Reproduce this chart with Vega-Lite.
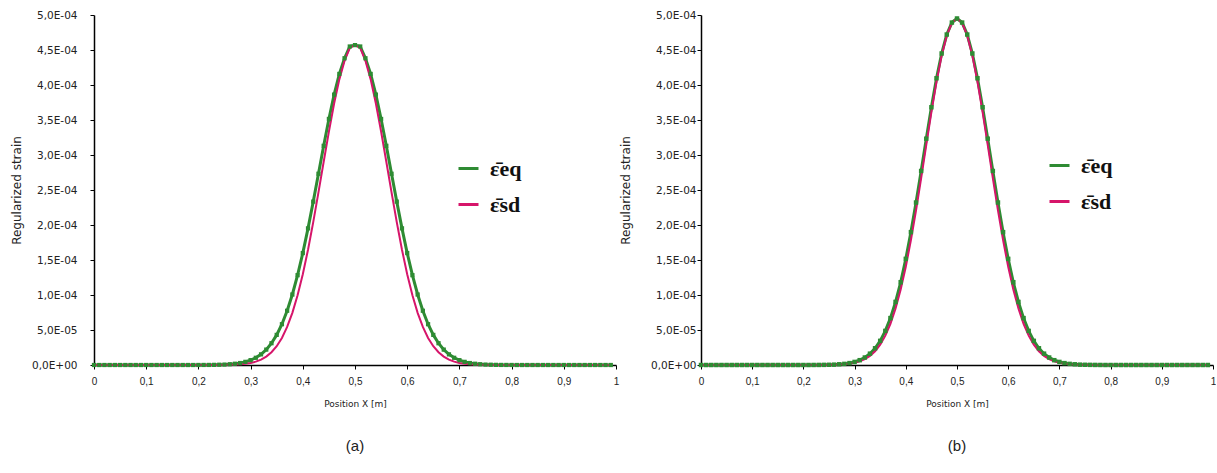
{
  "$schema": "https://vega.github.io/schema/vega-lite/v6.json",
  "background": "white",
  "padding": {"left": 10, "top": 10, "right": 0, "bottom": 0},
  "spacing": 0,
  "config": {
    "view": {"stroke": null},
    "axis": {"grid": false, "domainColor": "#000", "domainWidth": 1.5, "tickColor": "#000", "tickSize": 4, "labelColor": "#222", "titleColor": "#222", "titleFontWeight": "normal"}
  },
  "datasets": {
    "d": [
      {"x": 0.00, "ae": 0, "as": 0, "be": 0, "bs": 0},
      {"x": 0.01, "ae": 0, "as": 0, "be": 0, "bs": 0},
      {"x": 0.02, "ae": 0, "as": 0, "be": 0, "bs": 0},
      {"x": 0.03, "ae": 0, "as": 0, "be": 0, "bs": 0},
      {"x": 0.04, "ae": 0, "as": 0, "be": 0, "bs": 0},
      {"x": 0.05, "ae": 0, "as": 0, "be": 0, "bs": 0},
      {"x": 0.06, "ae": 0, "as": 0, "be": 0, "bs": 0},
      {"x": 0.07, "ae": 0, "as": 0, "be": 0, "bs": 0},
      {"x": 0.08, "ae": 0, "as": 0, "be": 0, "bs": 0},
      {"x": 0.09, "ae": 0, "as": 0, "be": 0, "bs": 0},
      {"x": 0.10, "ae": 0, "as": 0, "be": 0, "bs": 0},
      {"x": 0.11, "ae": 0, "as": 0, "be": 0, "bs": 0},
      {"x": 0.12, "ae": 0, "as": 0, "be": 0, "bs": 0},
      {"x": 0.13, "ae": 0, "as": 0, "be": 0, "bs": 0},
      {"x": 0.14, "ae": 0, "as": 0, "be": 0, "bs": 0},
      {"x": 0.15, "ae": 0, "as": 0, "be": 0, "bs": 0},
      {"x": 0.16, "ae": 0, "as": 0, "be": 0, "bs": 0},
      {"x": 0.17, "ae": 0, "as": 0, "be": 0, "bs": 0},
      {"x": 0.18, "ae": 0, "as": 0, "be": 0, "bs": 0},
      {"x": 0.19, "ae": 0, "as": 0, "be": 0, "bs": 0},
      {"x": 0.20, "ae": 4e-8, "as": 0, "be": 0, "bs": 0},
      {"x": 0.21, "ae": 7e-8, "as": 0, "be": 0, "bs": 0},
      {"x": 0.22, "ae": 1e-7, "as": 0, "be": 5e-8, "bs": 0},
      {"x": 0.23, "ae": 2e-7, "as": 5e-8, "be": 1e-7, "bs": 5e-8},
      {"x": 0.24, "ae": 4e-7, "as": 1e-7, "be": 2e-7, "bs": 1e-7},
      {"x": 0.25, "ae": 6e-7, "as": 2e-7, "be": 3e-7, "bs": 2e-7},
      {"x": 0.26, "ae": 1.1e-6, "as": 3e-7, "be": 5e-7, "bs": 4e-7},
      {"x": 0.27, "ae": 1.8e-6, "as": 6e-7, "be": 1.0e-6, "bs": 6e-7},
      {"x": 0.28, "ae": 2.8e-6, "as": 1.0e-6, "be": 1.6e-6, "bs": 1.1e-6},
      {"x": 0.29, "ae": 4.5e-6, "as": 1.8e-6, "be": 2.7e-6, "bs": 1.9e-6},
      {"x": 0.30, "ae": 6.9e-6, "as": 3.0e-6, "be": 4.4e-6, "bs": 3.2e-6},
      {"x": 0.31, "ae": 1.03e-5, "as": 4.8e-6, "be": 6.9e-6, "bs": 5.2e-6},
      {"x": 0.32, "ae": 1.52e-5, "as": 7.7e-6, "be": 1.07e-5, "bs": 8.4e-6},
      {"x": 0.33, "ae": 2.20e-5, "as": 1.20e-5, "be": 1.62e-5, "bs": 1.30e-5},
      {"x": 0.34, "ae": 3.11e-5, "as": 1.82e-5, "be": 2.39e-5, "bs": 1.97e-5},
      {"x": 0.35, "ae": 4.30e-5, "as": 2.68e-5, "be": 3.45e-5, "bs": 2.91e-5},
      {"x": 0.36, "ae": 5.83e-5, "as": 3.87e-5, "be": 4.87e-5, "bs": 4.19e-5},
      {"x": 0.37, "ae": 7.75e-5, "as": 5.44e-5, "be": 6.70e-5, "bs": 5.89e-5},
      {"x": 0.38, "ae": 1.007e-4, "as": 7.45e-5, "be": 9.01e-5, "bs": 8.07e-5},
      {"x": 0.39, "ae": 1.283e-4, "as": 9.95e-5, "be": 1.182e-4, "bs": 1.078e-4},
      {"x": 0.40, "ae": 1.599e-4, "as": 1.297e-4, "be": 1.516e-4, "bs": 1.404e-4},
      {"x": 0.41, "ae": 1.952e-4, "as": 1.647e-4, "be": 1.898e-4, "bs": 1.784e-4},
      {"x": 0.42, "ae": 2.334e-4, "as": 2.041e-4, "be": 2.321e-4, "bs": 2.210e-4},
      {"x": 0.43, "ae": 2.732e-4, "as": 2.465e-4, "be": 2.772e-4, "bs": 2.670e-4},
      {"x": 0.44, "ae": 3.131e-4, "as": 2.904e-4, "be": 3.233e-4, "bs": 3.145e-4},
      {"x": 0.45, "ae": 3.515e-4, "as": 3.335e-4, "be": 3.682e-4, "bs": 3.613e-4},
      {"x": 0.46, "ae": 3.863e-4, "as": 3.736e-4, "be": 4.096e-4, "bs": 4.046e-4},
      {"x": 0.47, "ae": 4.158e-4, "as": 4.080e-4, "be": 4.450e-4, "bs": 4.419e-4},
      {"x": 0.48, "ae": 4.382e-4, "as": 4.345e-4, "be": 4.721e-4, "bs": 4.707e-4},
      {"x": 0.49, "ae": 4.550e-4, "as": 4.530e-4, "be": 4.892e-4, "bs": 4.888e-4},
      {"x": 0.50, "ae": 4.570e-4, "as": 4.570e-4, "be": 4.950e-4, "bs": 4.950e-4},
      {"x": 0.51, "ae": 4.550e-4, "as": 4.530e-4, "be": 4.892e-4, "bs": 4.888e-4},
      {"x": 0.52, "ae": 4.382e-4, "as": 4.345e-4, "be": 4.721e-4, "bs": 4.707e-4},
      {"x": 0.53, "ae": 4.158e-4, "as": 4.080e-4, "be": 4.450e-4, "bs": 4.419e-4},
      {"x": 0.54, "ae": 3.863e-4, "as": 3.736e-4, "be": 4.096e-4, "bs": 4.046e-4},
      {"x": 0.55, "ae": 3.515e-4, "as": 3.335e-4, "be": 3.682e-4, "bs": 3.613e-4},
      {"x": 0.56, "ae": 3.131e-4, "as": 2.904e-4, "be": 3.233e-4, "bs": 3.145e-4},
      {"x": 0.57, "ae": 2.732e-4, "as": 2.465e-4, "be": 2.772e-4, "bs": 2.670e-4},
      {"x": 0.58, "ae": 2.334e-4, "as": 2.041e-4, "be": 2.321e-4, "bs": 2.210e-4},
      {"x": 0.59, "ae": 1.952e-4, "as": 1.647e-4, "be": 1.898e-4, "bs": 1.784e-4},
      {"x": 0.60, "ae": 1.599e-4, "as": 1.297e-4, "be": 1.516e-4, "bs": 1.404e-4},
      {"x": 0.61, "ae": 1.283e-4, "as": 9.95e-5, "be": 1.182e-4, "bs": 1.078e-4},
      {"x": 0.62, "ae": 1.007e-4, "as": 7.45e-5, "be": 9.01e-5, "bs": 8.07e-5},
      {"x": 0.63, "ae": 7.75e-5, "as": 5.44e-5, "be": 6.70e-5, "bs": 5.89e-5},
      {"x": 0.64, "ae": 5.83e-5, "as": 3.87e-5, "be": 4.87e-5, "bs": 4.19e-5},
      {"x": 0.65, "ae": 4.30e-5, "as": 2.68e-5, "be": 3.45e-5, "bs": 2.91e-5},
      {"x": 0.66, "ae": 3.11e-5, "as": 1.82e-5, "be": 2.39e-5, "bs": 1.97e-5},
      {"x": 0.67, "ae": 2.20e-5, "as": 1.20e-5, "be": 1.62e-5, "bs": 1.30e-5},
      {"x": 0.68, "ae": 1.52e-5, "as": 7.7e-6, "be": 1.07e-5, "bs": 8.4e-6},
      {"x": 0.69, "ae": 1.03e-5, "as": 4.8e-6, "be": 6.9e-6, "bs": 5.2e-6},
      {"x": 0.70, "ae": 6.9e-6, "as": 3.0e-6, "be": 4.4e-6, "bs": 3.2e-6},
      {"x": 0.71, "ae": 4.5e-6, "as": 1.8e-6, "be": 2.7e-6, "bs": 1.9e-6},
      {"x": 0.72, "ae": 2.8e-6, "as": 1.0e-6, "be": 1.6e-6, "bs": 1.1e-6},
      {"x": 0.73, "ae": 1.8e-6, "as": 6e-7, "be": 1.0e-6, "bs": 6e-7},
      {"x": 0.74, "ae": 1.1e-6, "as": 3e-7, "be": 5e-7, "bs": 4e-7},
      {"x": 0.75, "ae": 6e-7, "as": 2e-7, "be": 3e-7, "bs": 2e-7},
      {"x": 0.76, "ae": 4e-7, "as": 1e-7, "be": 2e-7, "bs": 1e-7},
      {"x": 0.77, "ae": 2e-7, "as": 5e-8, "be": 1e-7, "bs": 5e-8},
      {"x": 0.78, "ae": 1e-7, "as": 0, "be": 5e-8, "bs": 0},
      {"x": 0.79, "ae": 7e-8, "as": 0, "be": 0, "bs": 0},
      {"x": 0.80, "ae": 4e-8, "as": 0, "be": 0, "bs": 0},
      {"x": 0.81, "ae": 0, "as": 0, "be": 0, "bs": 0},
      {"x": 0.82, "ae": 0, "as": 0, "be": 0, "bs": 0},
      {"x": 0.83, "ae": 0, "as": 0, "be": 0, "bs": 0},
      {"x": 0.84, "ae": 0, "as": 0, "be": 0, "bs": 0},
      {"x": 0.85, "ae": 0, "as": 0, "be": 0, "bs": 0},
      {"x": 0.86, "ae": 0, "as": 0, "be": 0, "bs": 0},
      {"x": 0.87, "ae": 0, "as": 0, "be": 0, "bs": 0},
      {"x": 0.88, "ae": 0, "as": 0, "be": 0, "bs": 0},
      {"x": 0.89, "ae": 0, "as": 0, "be": 0, "bs": 0},
      {"x": 0.90, "ae": 0, "as": 0, "be": 0, "bs": 0},
      {"x": 0.91, "ae": 0, "as": 0, "be": 0, "bs": 0},
      {"x": 0.92, "ae": 0, "as": 0, "be": 0, "bs": 0},
      {"x": 0.93, "ae": 0, "as": 0, "be": 0, "bs": 0},
      {"x": 0.94, "ae": 0, "as": 0, "be": 0, "bs": 0},
      {"x": 0.95, "ae": 0, "as": 0, "be": 0, "bs": 0},
      {"x": 0.96, "ae": 0, "as": 0, "be": 0, "bs": 0},
      {"x": 0.97, "ae": 0, "as": 0, "be": 0, "bs": 0},
      {"x": 0.98, "ae": 0, "as": 0, "be": 0, "bs": 0},
      {"x": 0.99, "ae": 0, "as": 0, "be": 0, "bs": 0}
    ]
  },
  "resolve": {"scale": {"color": "independent"}},
  "hconcat": [
    {
      "width": 522,
      "height": 350,
      "data": {"name": "d"},
      "transform": [{"fold": ["ae", "as"], "as": ["series", "strain"]}],
      "title": {"text": "(a)", "orient": "bottom", "offset": 31, "fontSize": 15, "font": "Liberation Sans", "fontWeight": "normal", "color": "#222"},
      "encoding": {
        "x": {"field": "x", "type": "quantitative", "scale": {"domain": [0, 1], "nice": false},
          "axis": {"values": [0, 0.1, 0.2, 0.3, 0.4, 0.5, 0.6, 0.7, 0.8, 0.9, 1], "labelExpr": "datum.value == 0 ? '0' : datum.value == 1 ? '1' : replace(format(datum.value, '.1f'), '.', ',')", "labelFont": "Liberation Sans", "labelFontSize": 10, "labelPadding": 7, "labelFlush": false, "title": "Position X [m]", "titleFont": "DejaVu Sans", "titleFontSize": 9, "titlePadding": 13}},
        "y": {"field": "strain", "type": "quantitative", "scale": {"domain": [0, 0.0005], "nice": false},
          "axis": {"values": [0, 0.00005, 0.0001, 0.00015, 0.0002, 0.00025, 0.0003, 0.00035, 0.0004, 0.00045, 0.0005], "labelExpr": "datum.value == 0 ? '0,0E+00' : replace(format(datum.value / pow(10, floor(log(datum.value) / LN10 + 1e-9)), '.1f'), '.', ',') + 'E-0' + (-floor(log(datum.value) / LN10 + 1e-9))", "labelFont": "DejaVu Sans", "labelFontSize": 10.5, "labelPadding": 13, "labelFlush": false, "title": "Regularized strain", "titleFont": "DejaVu Sans", "titleFontSize": 12, "titlePadding": 8}}
      },
      "layer": [
        {"transform": [{"filter": "datum.series == 'ae'"}], "mark": {"type": "line", "strokeWidth": 3},
          "encoding": {"color": {"field": "series", "type": "nominal", "scale": {"domain": ["ae", "as"], "range": ["#2e8b33", "#d6156a"]},
            "legend": {"title": null, "orient": "none", "legendX": 363, "legendY": 142, "padding": 0, "symbolType": "stroke", "symbolSize": 400, "symbolStrokeWidth": 3, "labelFont": "Liberation Serif", "labelFontSize": 22, "labelFontWeight": "bold", "labelColor": "#111", "labelOffset": 10, "rowPadding": 13, "labelExpr": "datum.value == 'ae' ? '\u03b5\u0304eq' : '\u03b5\u0304sd'"}}}},
        {"transform": [{"filter": "datum.series == 'as'"}], "mark": {"type": "line", "strokeWidth": 2},
          "encoding": {"color": {"field": "series", "type": "nominal"}}},
        {"transform": [{"filter": "datum.series == 'ae'"}], "mark": {"type": "square", "size": 18, "color": "#2e8b33", "opacity": 1}}
      ]
    },
    {
      "width": 512,
      "height": 350,
      "data": {"name": "d"},
      "transform": [{"fold": ["be", "bs"], "as": ["series", "strain"]}],
      "title": {"text": "(b)", "orient": "bottom", "offset": 31, "fontSize": 15, "font": "Liberation Sans", "fontWeight": "normal", "color": "#222"},
      "encoding": {
        "x": {"field": "x", "type": "quantitative", "scale": {"domain": [0, 1], "nice": false},
          "axis": {"values": [0, 0.1, 0.2, 0.3, 0.4, 0.5, 0.6, 0.7, 0.8, 0.9, 1], "labelExpr": "datum.value == 0 ? '0' : datum.value == 1 ? '1' : replace(format(datum.value, '.1f'), '.', ',')", "labelFont": "Liberation Sans", "labelFontSize": 10, "labelPadding": 7, "labelFlush": false, "title": "Position X [m]", "titleFont": "DejaVu Sans", "titleFontSize": 9, "titlePadding": 13}},
        "y": {"field": "strain", "type": "quantitative", "scale": {"domain": [0, 0.0005], "nice": false},
          "axis": {"values": [0, 0.00005, 0.0001, 0.00015, 0.0002, 0.00025, 0.0003, 0.00035, 0.0004, 0.00045, 0.0005], "labelExpr": "datum.value == 0 ? '0,0E+00' : replace(format(datum.value / pow(10, floor(log(datum.value) / LN10 + 1e-9)), '.1f'), '.', ',') + 'E-0' + (-floor(log(datum.value) / LN10 + 1e-9))", "labelFont": "DejaVu Sans", "labelFontSize": 10.5, "labelPadding": 1, "labelFlush": false, "title": "Regularized strain", "titleFont": "DejaVu Sans", "titleFontSize": 12, "titlePadding": 18}}
      },
      "layer": [
        {"transform": [{"filter": "datum.series == 'be'"}], "mark": {"type": "line", "strokeWidth": 3},
          "encoding": {"color": {"field": "series", "type": "nominal", "scale": {"domain": ["be", "bs"], "range": ["#2e8b33", "#d6156a"]},
            "legend": {"title": null, "orient": "none", "legendX": 347, "legendY": 139, "padding": 0, "symbolType": "stroke", "symbolSize": 400, "symbolStrokeWidth": 3, "labelFont": "Liberation Serif", "labelFontSize": 22, "labelFontWeight": "bold", "labelColor": "#111", "labelOffset": 10, "rowPadding": 13, "labelExpr": "datum.value == 'be' ? '\u03b5\u0304eq' : '\u03b5\u0304sd'"}}}},
        {"transform": [{"filter": "datum.series == 'bs'"}], "mark": {"type": "line", "strokeWidth": 2},
          "encoding": {"color": {"field": "series", "type": "nominal"}}},
        {"transform": [{"filter": "datum.series == 'be'"}], "mark": {"type": "square", "size": 20, "color": "#2e8b33", "opacity": 1}}
      ]
    }
  ]
}
